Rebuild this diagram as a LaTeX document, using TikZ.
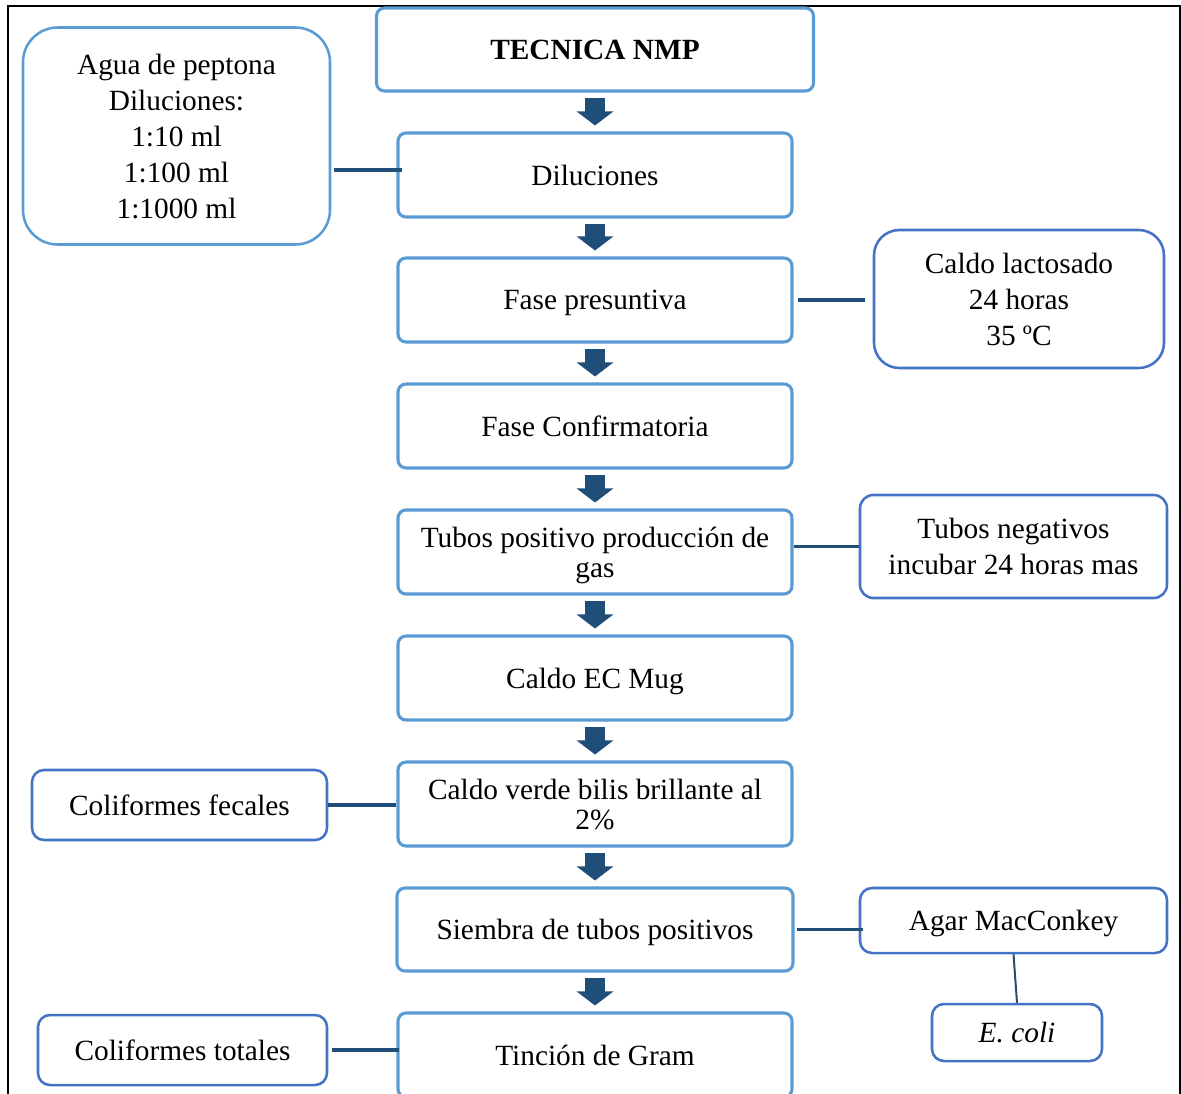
\documentclass[tikz,border=0pt]{standalone}
\usepackage{fontspec}
\setmainfont{Liberation Serif}
\usetikzlibrary{arrows.meta}
\definecolor{mainblue}{HTML}{5B9BD5}
\definecolor{sideblue}{HTML}{4472C4}
\definecolor{darkblue}{HTML}{1F4E79}
\begin{document}
\begin{tikzpicture}[x=0.75pt,y=-0.75pt,
  every node/.style={font=\fontsize{22}{27}\selectfont, align=center, inner sep=0pt, text depth=0pt},
  tight/.style={font=\fontsize{22}{22.5}\selectfont},
  mainbox/.style={draw=mainblue, line width=2.3pt, rounded corners=6pt, minimum width=295.5pt, minimum height=63pt},
  sidebox/.style={draw=sideblue, line width=1.9pt, rounded corners=9pt},
  blockarrow/.style={draw=darkblue, line width=15pt, -{Triangle[width=27pt,length=10.5pt]}, shorten <=3.75pt, shorten >=4.5pt},
  conn/.style={draw=darkblue, line width=2.8pt}]
\useasboundingbox (0,0) rectangle (1181,1093);
\clip (0,0) rectangle (1181,1093);
% outer frame
\draw[black, line width=1.5pt] (8,1110) -- (8,6) -- (1180,6) -- (1180,1110);

% main column
\node[mainbox, minimum width=327.75pt, minimum height=62.25pt, font=\bfseries\fontsize{22}{27}\selectfont] (tec) at (595,49.5) {TECNICA NMP};
\node[mainbox] (dil) at (595,175) {Diluciones};
\node[mainbox] (fp) at (595,300) {Fase presuntiva};
\node[mainbox] (fc) at (595,426) {Fase Confirmatoria};
\node[mainbox, tight] (tp) at (595,552) {Tubos positivo producción de\\gas};
\node[mainbox] (ec) at (595,678) {Caldo EC Mug};
\node[mainbox, tight] (cv) at (595,804) {Caldo verde bilis brillante al\\2\%};
\node[mainbox, minimum width=297pt, minimum height=62.25pt] (sb) at (595,929.5) {Siembra de tubos positivos};
\node[mainbox] (tg) at (595,1055) {Tinción de Gram};

% block arrows
\draw[blockarrow] (tec) -- (dil);
\draw[blockarrow] (dil) -- (fp);
\draw[blockarrow] (fp) -- (fc);
\draw[blockarrow] (fc) -- (tp);
\draw[blockarrow] (tp) -- (ec);
\draw[blockarrow] (ec) -- (cv);
\draw[blockarrow] (cv) -- (sb);
\draw[blockarrow] (sb) -- (tg);

% side boxes
\node[draw=mainblue, line width=1.9pt, rounded corners=26pt, minimum width=230.25pt, minimum height=162.75pt] (agua) at (176.5,136) {Agua de peptona\\Diluciones:\\1:10 ml\\1:100 ml\\1:1000 ml};
\node[sidebox, rounded corners=19pt, minimum width=217.5pt, minimum height=103.5pt] (cl) at (1019,299) {Caldo lactosado\\24 horas\\35 ºC};
\node[sidebox, rounded corners=10pt, minimum width=230.25pt, minimum height=77.25pt] (tn) at (1013.5,546.5) {Tubos negativos\\incubar 24 horas mas};
\node[sidebox, minimum width=221.25pt, minimum height=52.5pt] (cf) at (179.5,805) {Coliformes fecales};
\node[sidebox, minimum width=230.25pt, minimum height=48.75pt] (agar) at (1013.5,920.5) {Agar MacConkey};
\node[sidebox, minimum width=127.5pt, minimum height=42.75pt] (ecoli) at (1017,1032.5) {\itshape E. coli};
\node[sidebox, minimum width=216.75pt, minimum height=52.5pt] (ct) at (182.5,1050) {Coliformes totales};

% connectors
\draw[conn] ([xshift=2pt,yshift=3.75pt]agua.east |- dil.west) -- ([xshift=4pt,yshift=3.75pt]dil.west);
\draw[conn] ([xshift=3pt]fp.east) -- ([xshift=-6pt]cl.west |- fp.east);
\draw[conn] (tp.east |- tn.west) -- (tn.west);
\draw[conn] (cf.east) -- (cv.west |- cf.east);
\draw[conn] ([xshift=2pt]sb.east) -- ([xshift=3pt]agar.west |- sb.east);
\draw[conn] ([xshift=3pt]ct.east) -- ([xshift=2pt]tg.west |- ct.east);
\draw[darkblue, line width=1.5pt] (agar.south) -- (ecoli.north);
\end{tikzpicture}
\end{document}
